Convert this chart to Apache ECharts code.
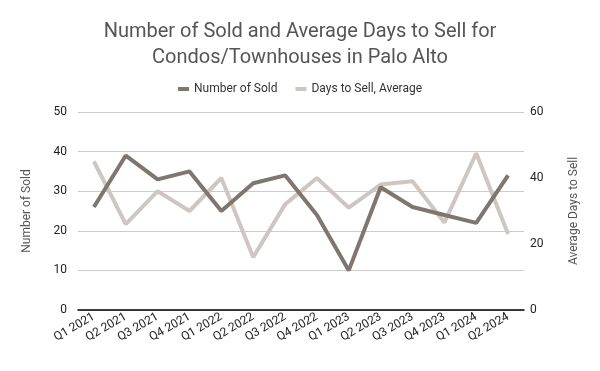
<!DOCTYPE html>
<html>
<head>
<meta charset="utf-8">
<script src="https://cdn.jsdelivr.net/npm/echarts@6/dist/echarts.min.js"></script>
<style>html,body{margin:0;padding:0;background:#fff}#c{width:600px;height:371px}</style>
</head>
<body>
<div id="c"></div>
<script>
const categories = ['Q1 2021','Q2 2021','Q3 2021','Q4 2021','Q1 2022','Q2 2022','Q3 2022','Q4 2022','Q1 2023','Q2 2023','Q3 2023','Q4 2023','Q1 2024','Q2 2024'];
const numberSold = [26, 39, 33, 35, 25, 32, 34, 24, 10, 31, 26, 24, 22, 34];
const daysToSell = [45, 26, 36, 30, 40, 16, 32, 40, 31, 38, 39, 26.5, 47.5, 23];
const leftTicks = [0, 50, 10];
const rightTicks = [0, 60, 20];

const chart = echarts.init(document.getElementById('c'));
const font = 'Roboto, Arial, sans-serif';
chart.setOption({
  animation: false,
  textStyle: { fontFamily: font },
  title: {
    text: 'Number of Sold and Average Days to Sell for\nCondos/Townhouses in Palo Alto',
    left: 'center', top: 14,
    textStyle: { fontFamily: font, fontSize: 20, fontWeight: 'normal', color: '#555555', lineHeight: 26 }
  },
  legend: {
    top: 78, left: 'center',
    icon: 'rect', itemWidth: 11, itemHeight: 4, itemGap: 18,
    textStyle: { fontFamily: font, fontSize: 12, color: '#333333' },
    data: ['Number of Sold', 'Days to Sell, Average']
  },
  grid: { left: 78, right: 76, top: 112, bottom: 61 },
  xAxis: [{
    type: 'category', data: categories, boundaryGap: true,
    axisLine: { lineStyle: { color: '#000', width: 1.5 } },
    axisTick: { alignWithLabel: true, length: 6, lineStyle: { color: '#000' } },
    axisLabel: { rotate: 30, fontSize: 12, color: '#222', margin: 6, padding: [0, 0, 0, 0], fontFamily: font },
    splitLine: { show: false }
  }, {
    type: 'category', data: categories, position: 'bottom', boundaryGap: true,
    axisLine: { show: false },
    axisTick: { inside: true, alignWithLabel: true, length: 6, lineStyle: { color: '#000' } },
    axisLabel: { show: false }
  }],
  yAxis: [{
    type: 'value', min: leftTicks[0], max: leftTicks[1], interval: leftTicks[2],
    name: 'Number of Sold', nameLocation: 'middle', nameGap: 45, nameRotate: 90,
    nameTextStyle: { color: '#555', fontSize: 12, fontFamily: font },
    axisLine: { show: false }, axisTick: { show: false },
    axisLabel: { color: '#222', fontSize: 12, margin: 11, fontFamily: font },
    splitLine: { lineStyle: { color: '#cccccc', width: 1 } }
  }, {
    type: 'value', min: rightTicks[0], max: rightTicks[1], interval: rightTicks[2],
    name: 'Average Days to Sell', nameLocation: 'middle', nameGap: 44, nameRotate: 90,
    nameTextStyle: { color: '#555', fontSize: 12, fontFamily: font },
    axisLine: { show: false }, axisTick: { show: false },
    axisLabel: { color: '#222', fontSize: 12, margin: 6, fontFamily: font },
    splitLine: { show: false }
  }],
  series: [{
    name: 'Number of Sold', type: 'line', data: numberSold, yAxisIndex: 0,
    symbol: 'none', lineStyle: { color: '#7f766e', width: 4 }, itemStyle: { color: '#7f766e' }, z: 3
  }, {
    name: 'Days to Sell, Average', type: 'line', data: daysToSell, yAxisIndex: 1,
    symbol: 'none', lineStyle: { color: '#cdc6c1', width: 4 }, itemStyle: { color: '#cdc6c1' }, z: 2
  }]
});
</script>
</body>
</html>
